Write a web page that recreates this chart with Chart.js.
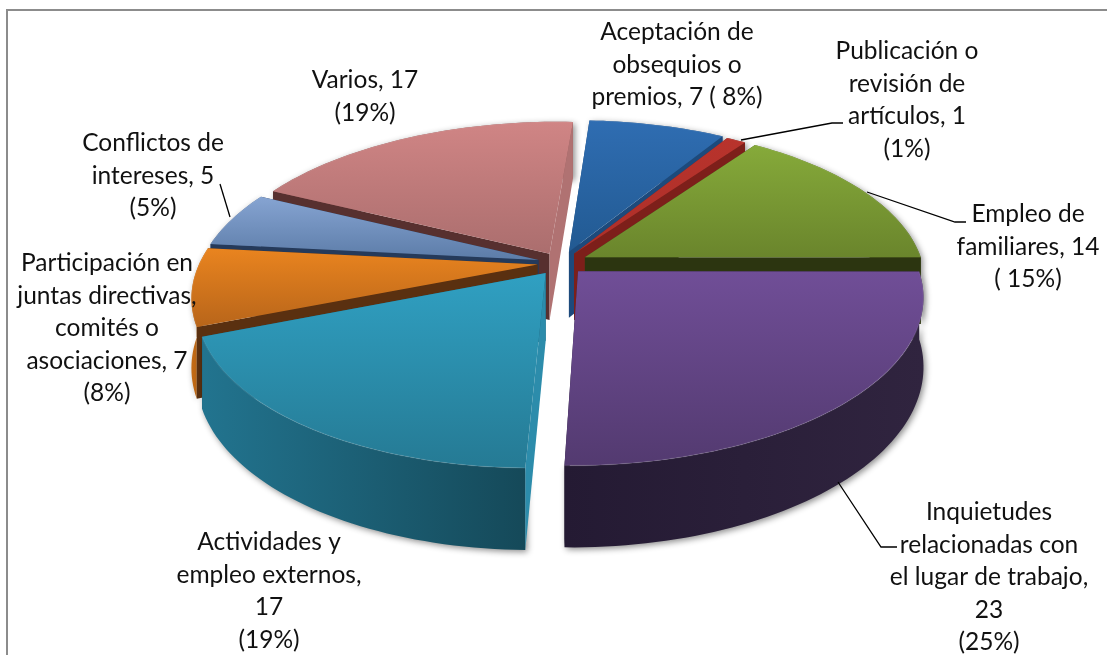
<!DOCTYPE html>
<html>
<head>
<meta charset="utf-8">
<script src="https://cdn.jsdelivr.net/npm/chart.js@4/dist/chart.umd.min.js"></script>
<style>
  body { margin: 0; background: #fff; }
  canvas { display: block; }
</style>
</head>
<body>
<canvas id="pieChart" width="1107" height="655"></canvas>
<script>
// values
const categories = ['Aceptación de obsequios o premios', 'Publicación o revisión de artículos', 'Empleo de familiares',
    'Inquietudes relacionadas con el lugar de trabajo', 'Actividades y empleo externos',
    'Participación en juntas directivas, comités o asociaciones', 'Conflictos de intereses', 'Varios'];
const values = [7, 1, 14, 23, 17, 7, 5, 17];
const labelLines = [
    ['Aceptación de', 'obsequios o', 'premios, 7 ( 8%)'],
    ['Publicación o', 'revisión de', 'artículos, 1', '(1%)'],
    ['Empleo de', 'familiares, 14', '( 15%)'],
    ['Inquietudes', 'relacionadas con', 'el lugar de trabajo,', '23', '(25%)'],
    ['Actividades y', 'empleo externos,', '17', '(19%)'],
    ['Participación en', 'juntas directivas,', 'comités o', 'asociaciones, 7', '(8%)'],
    ['Conflictos de', 'intereses, 5', '(5%)'],
    ['Varios, 17', '(19%)']
];

// look of each slice: top surface, outer wall, the two cut faces
const explode = [24, 22, 25, 23, 24, 22, 22, 22];
const topColors = [['#2f6db2', '#225a92'], ['#b8332c', '#ad2f29'], ['#86aa3a', '#6a852c'], ['#704e97', '#533a70'],
    ['#30a0c2', '#257a94'], ['#e9841f', '#b8651a'], ['#86a4d2', '#5c7ca8'], ['#d08585', '#ab6e6e']];
const wallColors = [['#1f4f85', '#1f4f85'], ['#7d1f1a', '#7d1f1a'], ['#5c7326', '#46581c'], ['#241a33', '#30243f'],
    ['#22748f', '#154959'], ['#c46b15', '#a45a12'], ['#46638c', '#46638c'], ['#8a5555', '#8a5555']];
const startFace = ['#1d4a7c', '#7d1f1a', '#3f4f1a', '#241a33', '#2c8cab', '#5a3010', '#253a5a', '#57302f'];
const endFace = ['#1d4a7c', '#7d1f1a', '#2c3510', '#241a33', '#1a5a70', '#5a3010', '#253a5a', '#b07272'];
const drawOrder = [0, 7, 1, 2, 6, 5, 3, 4];

// where the labels sit: centre x, first line y
const labelPlaces = [[677, 32], [907, 51], [1028, 214], [989, 512], [269, 542], [107, 263], [153, 143], [365, 80]];
const lineStep = 32.6;
const leaders = [
    [[741, 140], [832, 123], [843, 123]],
    [[867, 192], [955, 222], [966, 222]],
    [[838, 482], [881, 547], [897, 547]],
    [[220, 184], [230, 217]]
];

// camera for the tilted pie
const view = { cx: 561, cy: 263, a: 338, k: 157.6, h: 67, d: 5.8, skew: 8 };

function project(X, Y, Z) {
    let f = view.d / (view.d - Y);
    return [view.cx + (view.a * X - view.skew * Y) * f, view.cy + (view.k * Y + view.h * Z) * f];
}

function arcPoints(arc, Z) {
    let pts = [];
    let steps = Math.max(4, Math.ceil((arc.endAngle - arc.startAngle) * 40));
    for (let i = 0; i <= steps; i++) {
        let t = arc.startAngle + (arc.endAngle - arc.startAngle) * i / steps;
        pts.push(project(arc.ox + Math.cos(t), arc.oy + Math.sin(t), Z));
    }
    return pts;
}

function fillPoly(ctx, pts, style) {
    ctx.beginPath();
    pts.forEach((p, i) => i ? ctx.lineTo(p[0], p[1]) : ctx.moveTo(p[0], p[1]));
    ctx.closePath();
    ctx.fillStyle = style;
    ctx.fill();
}

// a cut face shows when its lower edge falls on the other side from the slice top
function faceShows(apex, apexLow, edge, inner) {
    let dx = edge[0] - apex[0], dy = edge[1] - apex[1];
    let low = dx * (apexLow[1] - apex[1]) - dy * (apexLow[0] - apex[0]);
    let inside = dx * (inner[1] - apex[1]) - dy * (inner[0] - apex[0]);
    return low * inside < 0;
}

function drawSlice(ctx, el, i) {
    let mid = (el.startAngle + el.endAngle) / 2;
    let off = el.options.offset / el.outerRadius;
    let arc = { startAngle: el.startAngle, endAngle: el.endAngle, ox: Math.cos(mid) * off, oy: Math.sin(mid) * off };

    let top = arcPoints(arc, 0);
    let bottom = arcPoints(arc, 1);
    let last = top.length - 1;
    let apexTop = project(arc.ox, arc.oy, 0);
    let apexBottom = project(arc.ox, arc.oy, 1);
    let inner = top[Math.round(last / 2)];

    let faces = [
        { pts: [apexTop, top[0], bottom[0], apexBottom], color: startFace[i], shows: faceShows(apexTop, apexBottom, top[0], inner) },
        { pts: [apexTop, top[last], bottom[last], apexBottom], color: endFace[i], shows: faceShows(apexTop, apexBottom, top[last], inner) }
    ];

    faces.filter(f => !f.shows).forEach(f => fillPoly(ctx, f.pts, f.color));

    // outer wall with a soft shadow
    let xs = top.map(p => p[0]);
    let wallGrad = ctx.createLinearGradient(Math.min(...xs), 0, Math.max(...xs), 0);
    wallGrad.addColorStop(0, wallColors[i][0]);
    wallGrad.addColorStop(1, wallColors[i][1]);
    ctx.save();
    ctx.shadowColor = 'rgba(0,0,0,0.45)';
    ctx.shadowBlur = 6;
    ctx.shadowOffsetX = 2;
    ctx.shadowOffsetY = 2;
    fillPoly(ctx, top.concat(bottom.slice().reverse()), wallGrad);
    ctx.restore();

    faces.filter(f => f.shows).forEach(f => fillPoly(ctx, f.pts, f.color));

    // top surface
    let ys = top.map(p => p[1]).concat(apexTop[1]);
    let topGrad = ctx.createLinearGradient(0, Math.min(...ys), 0, Math.max(...ys));
    topGrad.addColorStop(0, topColors[i][0]);
    topGrad.addColorStop(1, topColors[i][1]);
    fillPoly(ctx, [apexTop].concat(top), topGrad);

    // light rim along the edge
    ctx.beginPath();
    top.forEach((p, j) => j ? ctx.lineTo(p[0], p[1]) : ctx.moveTo(p[0], p[1]));
    ctx.strokeStyle = 'rgba(255,255,255,0.08)';
    ctx.lineWidth = 1.5;
    ctx.stroke();
}

const pie3d = {
    id: 'pie3d',
    beforeDraw(chart) {
        let ctx = chart.ctx;
        ctx.save();
        ctx.strokeStyle = '#8c8c8c';
        ctx.lineWidth = 2;
        ctx.beginPath();
        ctx.moveTo(7, 655);
        ctx.lineTo(7, 10);
        ctx.lineTo(1107, 10);
        ctx.stroke();
        ctx.restore();
    },
    beforeDatasetsDraw(chart) {
        let ctx = chart.ctx;
        let arcs = chart.getDatasetMeta(0).data;
        ctx.save();
        drawOrder.forEach(i => drawSlice(ctx, arcs[i], i));
        ctx.restore();
        return false;
    },
    afterDraw(chart) {
        let ctx = chart.ctx;
        ctx.save();
        ctx.strokeStyle = '#000';
        ctx.lineWidth = 1.3;
        leaders.forEach(line => {
            ctx.beginPath();
            line.forEach((p, j) => j ? ctx.lineTo(p[0], p[1]) : ctx.moveTo(p[0], p[1]));
            ctx.stroke();
        });
        ctx.fillStyle = '#111';
        ctx.font = '24.5px Lato';
        ctx.textAlign = 'center';
        ctx.textBaseline = 'middle';
        labelLines.forEach((lines, i) => {
            lines.forEach((text, j) => {
                ctx.fillText(text, labelPlaces[i][0], labelPlaces[i][1] + j * lineStep);
            });
        });
        ctx.restore();
    }
};

new Chart(document.getElementById('pieChart'), {
    type: 'pie',
    data: {
        labels: categories,
        datasets: [{ data: values, backgroundColor: topColors.map(c => c[0]), offset: explode, borderWidth: 0 }]
    },
    options: {
        responsive: false,
        animation: false,
        rotation: 3,
        plugins: { legend: { display: false }, tooltip: { enabled: false } }
    },
    plugins: [pie3d]
});
</script>
</body>
</html>
